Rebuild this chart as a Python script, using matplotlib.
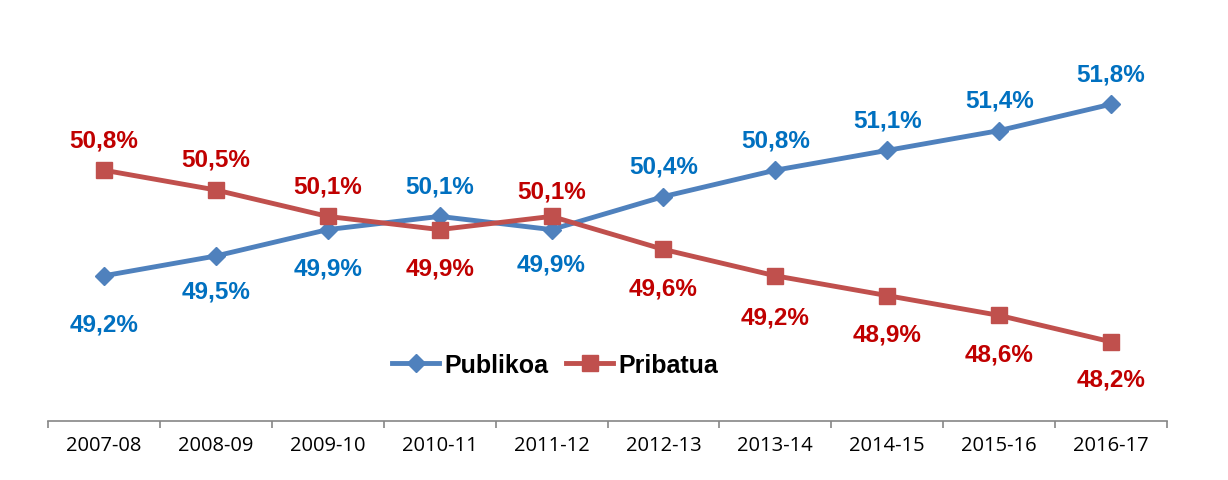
import numpy as np
import matplotlib.pyplot as plt

years = ['2007-08', '2008-09', '2009-10', '2010-11', '2011-12',
         '2012-13', '2013-14', '2014-15', '2015-16', '2016-17']
publikoa = [49.2, 49.5, 49.9, 50.1, 49.9, 50.4, 50.8, 51.1, 51.4, 51.8]
pribatua = [50.8, 50.5, 50.1, 49.9, 50.1, 49.6, 49.2, 48.9, 48.6, 48.2]

# label offsets in points (negative = below the point)
pub_off = [-35, -25, -28, 22, -25, 22, 22, 22, 22, 22]
pri_off = [22, 22, 22, -28, 18, -28, -30, -28, -28, -27]

fig = plt.figure(figsize=(12.28, 4.81), dpi=100)
ax = fig.add_axes([48 / 1228, 1 - 422 / 481, (1167 - 48) / 1228, (422 - 26) / 481])

x = np.arange(len(years))
ax.plot(x, publikoa, color='#4F81BD', lw=3.5, marker='D', ms=9.5, label='Publikoa')
ax.plot(x, pribatua, color='#C0504D', lw=3.5, marker='s', ms=11, label='Pribatua')

lab_font = dict(family='Liberation Sans', weight='bold', size=17.5)
for i in range(len(x)):
    ax.annotate(f'{publikoa[i]:.1f}%'.replace('.', ','), (x[i], publikoa[i]),
                xytext=(0, pub_off[i]), textcoords='offset points',
                ha='center', va='center', color='#0070C0', **lab_font)
    ax.annotate(f'{pribatua[i]:.1f}%'.replace('.', ','), (x[i], pribatua[i]),
                xytext=(0, pri_off[i]), textcoords='offset points',
                ha='center', va='center', color='#C00000', **lab_font)

ax.set_xlim(-0.5, 9.5)
ax.set_ylim(47, 53)
ax.set_yticks([])
for s in ['left', 'right', 'top']:
    ax.spines[s].set_visible(False)
ax.spines['bottom'].set_color('#868686')
ax.spines['bottom'].set_linewidth(1.2)

ax.set_xticks(x)
ax.set_xticklabels(years, family='Open Sans', fontsize=14.5)
ax.set_xticks(np.arange(-0.5, 10, 1), minor=True)
ax.tick_params(axis='x', which='major', length=0, pad=10)
ax.tick_params(axis='x', which='minor', length=5, width=1.2, color='#868686', direction='out')

leg = ax.legend(loc='center', bbox_to_anchor=((555 - 48) / (1167 - 48), (422 - 366) / (422 - 26)),
                ncol=2, frameon=False, handlelength=1.9, columnspacing=0.7, handletextpad=0.2,
                borderpad=0, prop=dict(family='Liberation Sans', weight='bold', size=18))

fig.savefig('out.png', dpi=100)
